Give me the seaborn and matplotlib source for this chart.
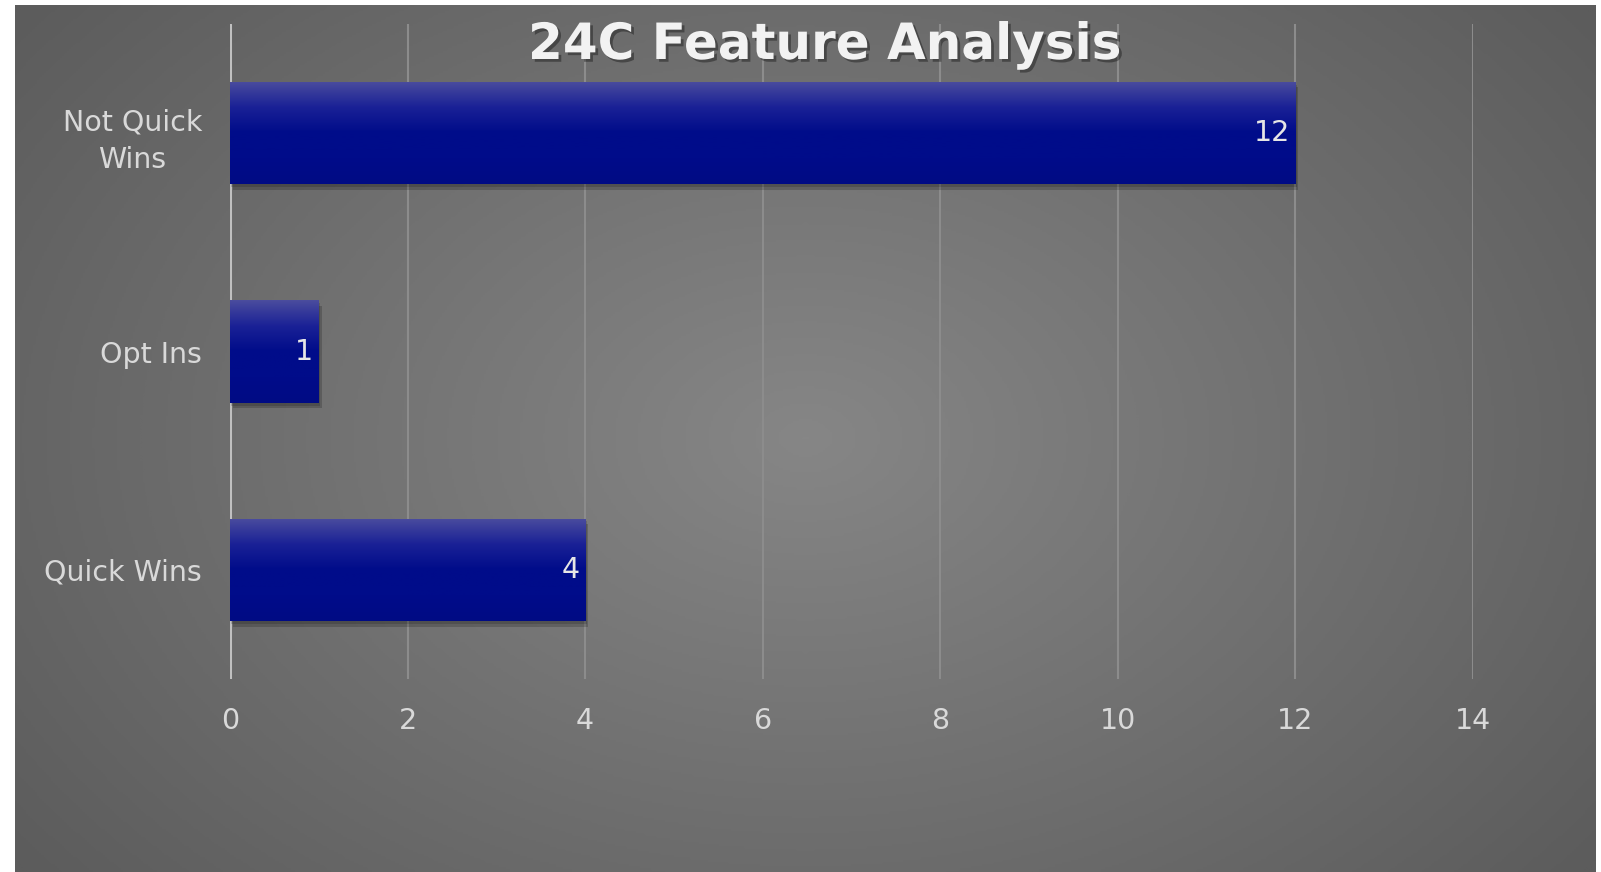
import numpy as np
import pandas as pd
import matplotlib
matplotlib.use("Agg")
import matplotlib.pyplot as plt
import matplotlib.patheffects as pe
import seaborn as sns

# data
categories = ["Not Quick\nWins", "Opt Ins", "Quick Wins"]
counts = [12, 1, 4]
x_ticks = [0, 2, 4, 6, 8, 10, 12, 14]

df = pd.DataFrame({"Category": categories, "Count": counts})

sns.set_style("white")
plt.rcParams["font.family"] = ["DejaVu Sans"]

fig = plt.figure(figsize=(16.01, 8.72), dpi=100)
fig.patch.set_facecolor("white")

# radial gray background panel
bg = fig.add_axes([15 / 1601, 0, 1580 / 1601, 867 / 872])
yy, xx = np.mgrid[-1:1:400j, -1:1:700j]
r = np.sqrt((xx * 0.95) ** 2 + (yy * 0.75) ** 2)
bg.imshow(r, cmap=matplotlib.colors.LinearSegmentedColormap.from_list(
    "g", ["#868686", "#5c5c5c"]), aspect="auto", vmin=0, vmax=1.2,
    extent=[0, 1, 0, 1])
bg.axis("off")

ax = fig.add_axes([230 / 1601, 1 - 679 / 872, 1243 / 1601, 655 / 872])
ax.patch.set_alpha(0)

sns.barplot(data=df, x="Count", y="Category", orient="h", color="#000c8a",
            width=0.47, saturation=1, linewidth=0, ax=ax, zorder=3)

# bar gradient + soft shadow
grad = np.linspace(0, 1, 100).reshape(-1, 1)
cmap_bar = matplotlib.colors.LinearSegmentedColormap.from_list(
    "b", ["#4a4c9e", "#1a2196", "#000c8a", "#000c8a", "#000b84"])
for p in ax.patches:
    p.set_path_effects([pe.SimplePatchShadow(offset=(2, -4), shadow_rgbFace="black", alpha=0.18),
                        pe.SimplePatchShadow(offset=(1, -2), shadow_rgbFace="black", alpha=0.15),
                        pe.Normal()])
    x0, y0 = p.get_x(), p.get_y()
    w, h = p.get_width(), p.get_height()
    im = ax.imshow(grad, cmap=cmap_bar, aspect="auto", extent=[x0, x0 + w, y0 + h, y0],
                   zorder=4)
    im.set_clip_path(p)

for p, v in zip(ax.patches, counts):
    ax.annotate(str(v), (p.get_x() + p.get_width(), p.get_y() + p.get_height() / 2),
                xytext=(-4, 0), textcoords="offset points", ha="right", va="center",
                color="#e6e6e6", fontsize=20.5, zorder=5)

ax.set_xlim(0, 14)
ax.set_ylim(2.5, -0.5)
ax.set_xticks(x_ticks)
ax.grid(axis="x", color="#8c8c8c", linewidth=1.5, zorder=0)
ax.axvline(0, color="#c0c0c0", linewidth=2.2, zorder=2)
for s in ax.spines.values():
    s.set_visible(False)
ax.set_xlabel("")
ax.set_ylabel("")
ax.tick_params(axis="both", length=0, colors="#d9d9d9", labelsize=20.5)
ax.tick_params(axis="x", pad=20)
ax.tick_params(axis="y", pad=20)
for lab in ax.get_yticklabels():
    lab.set_multialignment("center")
    lab.set_linespacing(1.45)

fig.text(825 / 1601, 1 - 45 / 872, "24C Feature Analysis", ha="center", va="center",
         fontsize=36, fontweight="bold", color="#f2f2f2",
         path_effects=[pe.SimplePatchShadow(offset=(2, -2), shadow_rgbFace="black", alpha=0.35), pe.Normal()])

fig.savefig("out.png", dpi=100)
